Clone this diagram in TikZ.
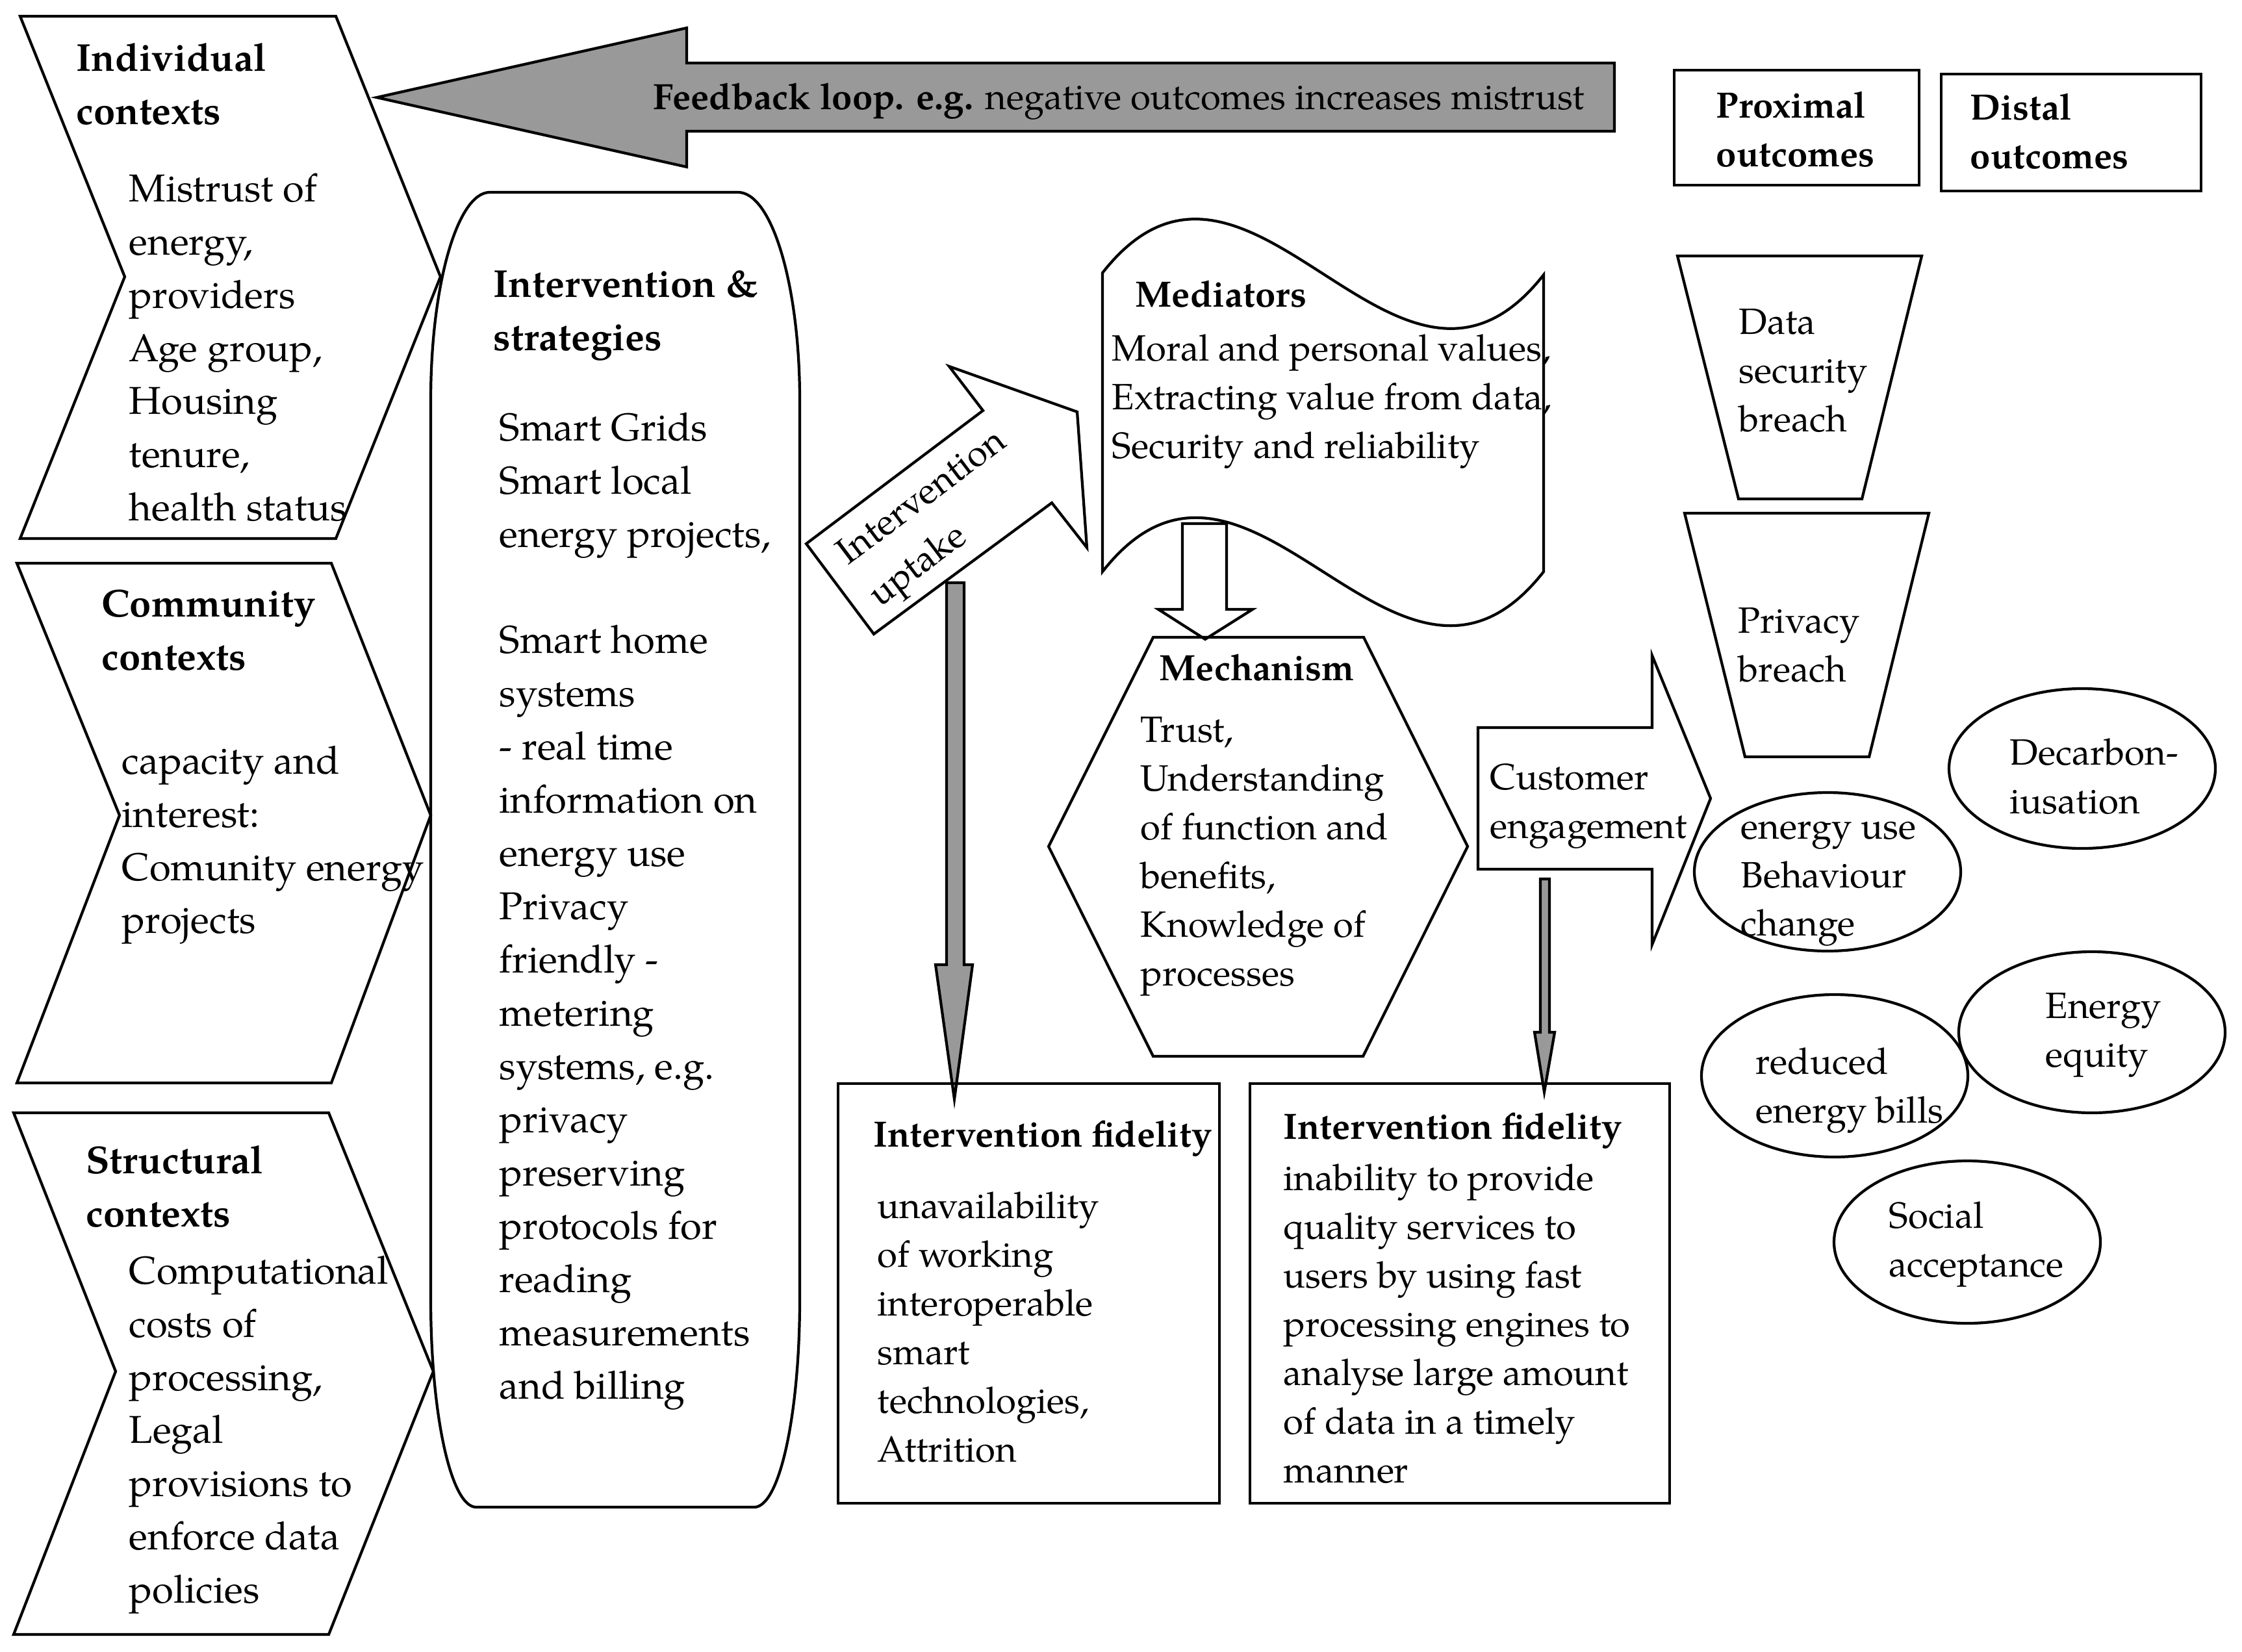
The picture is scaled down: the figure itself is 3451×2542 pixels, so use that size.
\documentclass[tikz,border=0pt]{standalone}
\usepackage{fontspec}
\setmainfont{TeX Gyre Pagella}
\definecolor{arrowgrey}{RGB}{153,153,153}
\newcommand{\fs}{\rule{0pt}{14.5pt}}
\tikzset{
  outl/.style={draw=black, line width=1.2pt, line join=miter},
  greyarrow/.style={draw=black, line width=1.2pt, fill=arrowgrey, line join=miter},
  txtA/.style={anchor=north west, inner sep=0pt, align=left, yshift=-0.08cm, font=\fontsize{17}{23.3}\selectfont, execute at begin node=\fs},
  txtAb/.style={txtA, font=\fontsize{17}{23.3}\selectfont\bfseries},
  txtB/.style={anchor=north west, inner sep=0pt, align=left, yshift=-0.08cm, font=\fontsize{16}{21.3}\selectfont, execute at begin node=\fs},
  txtBb/.style={txtB, font=\fontsize{16}{21.3}\selectfont\bfseries}
}
\begin{document}
\begin{tikzpicture}[x=0.01cm,y=-0.01cm]
\fill[white] (0,0) rectangle (3451,2542);
\useasboundingbox (0,0) rectangle (3451,2542);

% ---------- context chevrons ----------
\draw[outl] (31,25) -- (517,25) -- (678,426) -- (517,829) -- (31,829) -- (192,426) -- cycle;
\draw[outl] (26,867) -- (510,867) -- (663,1255) -- (510,1667) -- (26,1667) -- (184,1255) -- cycle;
\draw[outl] (21,1713) -- (506,1713) -- (667,2111) -- (506,2516) -- (21,2516) -- (178,2111) -- cycle;

\node[txtAb] (indh) at (117,58) {Individual\\contexts};
\node[txtA] (indb) at (198,258) {Mistrust of\\energy,\\providers\\Age group,\\Housing\\tenure,\\health status};
\node[txtAb] (comh) at (156,899) {Community\\contexts};
\node[txtA] (comb) at (187,1139) {capacity and\\interest:\\Comunity energy\\projects};
\node[txtAb] (strh) at (132,1755) {Structural\\contexts};
\node[txtA] (strb) at (198,1924) {Computational\\costs of\\processing,\\Legal\\provisions to\\enforce data\\policies};

% ---------- feedback arrow ----------
\draw[greyarrow] (580,150) -- (1057,43) -- (1057,97) -- (2485,97) -- (2485,202) -- (1057,202) -- (1057,257) -- cycle;
\node[anchor=center, inner sep=0pt, font=\fontsize{16}{21}\selectfont] (fb) at (1722,156)
  {\textbf{Feedback loop. e.g.} negative outcomes increases mistrust};

% ---------- intervention & strategies ----------
\draw[outl] (754,296) -- (1136,296) .. controls (1188,296) and (1231,439) .. (1231,616)
  -- (1231,2000) .. controls (1231,2177) and (1200,2320) .. (1161,2320)
  -- (733,2320) .. controls (694,2320) and (663,2177) .. (663,2000)
  -- (663,616) .. controls (663,439) and (704,296) .. (754,296) -- cycle;
\node[txtAb] (inth) at (759,408) {Intervention \&\\strategies};
\node[txtA] (intb) at (768,626) {Smart Grids\\Smart local\\energy projects,\\[23.3pt]Smart home\\systems\\- real time\\information on\\energy use\\Privacy\\friendly -\\metering\\systems, e.g.\\privacy\\preserving\\protocols for\\reading\\measurements\\and billing};

% ---------- intervention uptake arrow ----------
\draw[outl, fill=white] (1241,837) -- (1513,632) -- (1461,564) -- (1658,634) -- (1673,843) -- (1619,774) -- (1345,976) -- cycle;
\node[anchor=center, inner sep=0pt, align=left, rotate=37, font=\fontsize{16}{23}\selectfont] (upt) at (1446,801) {Intervention\\uptake};

% ---------- grey down arrows ----------
\draw[greyarrow] (1457,897) -- (1484,897) -- (1484,1485) -- (1497,1485) -- (1469,1692) -- (1440,1485) -- (1457,1485) -- cycle;
\draw[greyarrow] (2371,1353) -- (2385,1353) -- (2385,1589) -- (2393,1589) -- (2377,1681) -- (2362,1589) -- (2371,1589) -- cycle;

% ---------- mediators ----------
\draw[outl, fill=white] (1697,420) .. controls (1923,132) and (2150,711) .. (2376,423)
  -- (2376,880) .. controls (2150,1168) and (1923,592) .. (1697,880) -- cycle;
\node[txtBb] (medh) at (1747,413) {Mediators};
\node[txtB] (medb) at (1711,506) {Moral and personal values,\\Extracting value from data,\\Security and reliability};

% hollow arrow
\draw[outl, fill=white] (1820,806) -- (1888,806) -- (1888,938) -- (1928,938) -- (1855,984) -- (1783,938) -- (1820,938) -- cycle;

% ---------- mechanism ----------
\draw[outl] (1775,981) -- (2099,981) -- (2259,1303) -- (2098,1626) -- (1775,1626) -- (1614,1303) -- cycle;
\node[txtBb] (mech) at (1784,988) {Mechanism};
\node[txtB] (mecb) at (1755,1095) {Trust,\\Understanding\\of function and\\benefits,\\Knowledge of\\processes};

% ---------- fidelity boxes ----------
\draw[outl] (1290,1668) rectangle (1877,2314);
\node[txtBb] (fid1h) at (1344,1706) {Intervention fidelity};
\node[txtB] (fid1b) at (1350,1826) {unavailability\\of working\\interoperable\\smart\\technologies,\\Attrition};
\draw[outl] (1924,1668) rectangle (2570,2314);
\node[txtBb] (fid2h) at (1975,1694) {Intervention fidelity};
\node[txtB] (fid2b) at (1975,1783) {inability to provide\\quality services to\\users by using fast\\processing engines to\\analyse large amount\\of data in a timely\\manner};

% ---------- customer engagement ----------
\draw[outl, fill=white] (2275,1120) -- (2543,1120) -- (2543,1009) -- (2633,1229) -- (2543,1454) -- (2543,1338) -- (2275,1338) -- cycle;
\node[txtB] (cust) at (2293,1167) {Customer\\engagement};

% ---------- outcome headers ----------
\draw[outl] (2577,108) rectangle (2954,285);
\node[txtBb] (prox) at (2641,132) {Proximal\\outcomes};
\draw[outl] (2988,114) rectangle (3388,294);
\node[txtBb] (dist) at (3032,135) {Distal\\outcomes};

% ---------- proximal outcomes ----------
\draw[outl] (2582,394) -- (2958,394) -- (2866,768) -- (2676,768) -- cycle;
\node[txtB] (dsb) at (2676,467) {Data\\security\\breach};
\draw[outl] (2593,790) -- (2969,790) -- (2877,1165) -- (2686,1165) -- cycle;
\node[txtB] (pb) at (2675,927) {Privacy\\breach};

% ---------- ellipses ----------
\draw[outl] (2813,1342) ellipse [x radius=205, y radius=122];
\node[txtB] (euse) at (2679,1256) {energy use\\Behaviour\\change};
\draw[outl] (3205,1183) ellipse [x radius=205, y radius=123];
\node[txtB] (decarb) at (3093,1128) {Decarbon-\\iusation};
\draw[outl] (2824,1656) ellipse [x radius=205, y radius=125];
\node[txtB] (bills) at (2702,1604) {reduced\\energy bills};
\draw[outl] (3220,1589) ellipse [x radius=205, y radius=124];
\node[txtB] (equity) at (3148,1520) {Energy\\equity};
\draw[outl] (3028,1912) ellipse [x radius=205, y radius=125];
\node[txtB] (social) at (2907,1841) {Social\\acceptance};
\end{tikzpicture}
\end{document}
